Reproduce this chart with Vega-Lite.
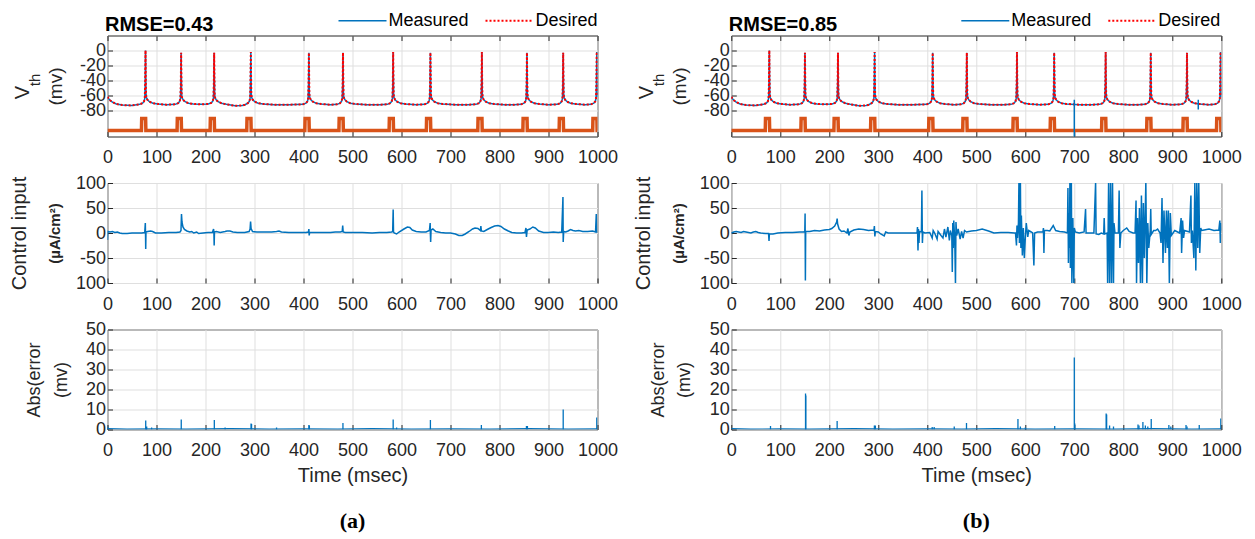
{
  "$schema": "https://vega.github.io/schema/vega-lite/v6.json",
  "background": "white",
  "padding": {"left": 8.5, "top": 10.5, "right": 10, "bottom": 0},
  "columns": 2,
  "bounds": "flush",
  "align": "each",
  "spacing": {"row": 46.5, "column": 133.8},
  "resolve": {
    "scale": {"color": "independent"},
    "legend": {"color": "independent"}
  },
  "datasets": {
    "vth": [
      {"t":0,"v":-62},{"t":2,"v":-64},{"t":5,"v":-66.5},{"t":10,"v":-69},{"t":18,"v":-71.5},{"t":30,"v":-73},{"t":50,"v":-73.5},
      {"t":65.6,"v":-72},{"t":71.6,"v":-70.5},{"t":74.6,"v":-68},{"t":76.1,"v":-64},{"t":76.9,"v":-45},{"t":77.6,"v":0},{"t":78.1,"v":-35},{"t":78.6,"v":-58},{"t":79.4,"v":-63},{"t":81.6,"v":-66},{"t":85.6,"v":-68.5},{"t":92.6,"v":-70.5},{"t":102.6,"v":-71.5},{"t":120,"v":-72.5},
      {"t":138.3,"v":-72},{"t":144.3,"v":-70.5},{"t":147.3,"v":-68},{"t":148.8,"v":-64},{"t":149.6,"v":-45},{"t":150.3,"v":-3},{"t":150.8,"v":-35},{"t":151.3,"v":-58},{"t":152.1,"v":-63},{"t":154.3,"v":-66},{"t":158.3,"v":-68.5},{"t":165.3,"v":-70.5},{"t":175.3,"v":-71.5},{"t":190,"v":-72},
      {"t":205.7,"v":-71.5},{"t":211.7,"v":-70},{"t":214.7,"v":-68},{"t":216.2,"v":-64},{"t":217,"v":-45},{"t":217.7,"v":-3},{"t":218.2,"v":-35},{"t":218.7,"v":-58},{"t":219.5,"v":-63},{"t":221.7,"v":-66},{"t":225.7,"v":-68.5},{"t":232.7,"v":-70.5},{"t":242.7,"v":-72},{"t":260,"v":-74},{"t":275,"v":-73.5},
      {"t":280.5,"v":-72.5},{"t":286.5,"v":-70.5},{"t":289.5,"v":-68},{"t":291,"v":-64},{"t":291.8,"v":-45},{"t":292.5,"v":-2},{"t":293,"v":-35},{"t":293.5,"v":-58},{"t":294.3,"v":-63},{"t":296.5,"v":-66},{"t":300.5,"v":-68.5},{"t":307.5,"v":-70.5},{"t":317.5,"v":-71.5},{"t":340,"v":-72.5},{"t":370,"v":-72.5},
      {"t":399,"v":-72},{"t":405,"v":-70.5},{"t":408,"v":-68},{"t":409.5,"v":-64},{"t":410.3,"v":-45},{"t":411,"v":-3},{"t":411.5,"v":-35},{"t":412,"v":-58},{"t":412.8,"v":-63},{"t":415,"v":-66},{"t":419,"v":-68.5},{"t":426,"v":-70.5},{"t":436,"v":-71.5},{"t":455,"v":-72.5},
      {"t":468.6,"v":-72},{"t":474.6,"v":-70.5},{"t":477.6,"v":-68},{"t":479.1,"v":-64},{"t":479.9,"v":-45},{"t":480.6,"v":-3},{"t":481.1,"v":-35},{"t":481.6,"v":-58},{"t":482.4,"v":-63},{"t":484.6,"v":-66},{"t":488.6,"v":-68.5},{"t":495.6,"v":-70.5},{"t":505.6,"v":-71.5},{"t":530,"v":-72.5},{"t":555,"v":-72.5},
      {"t":571,"v":-72},{"t":577,"v":-70.5},{"t":580,"v":-68},{"t":581.5,"v":-64},{"t":582.3,"v":-45},{"t":583,"v":-2},{"t":583.5,"v":-35},{"t":584,"v":-58},{"t":584.8,"v":-63},{"t":587,"v":-66},{"t":591,"v":-68.5},{"t":598,"v":-70.5},{"t":608,"v":-71.5},{"t":630,"v":-72.5},
      {"t":647,"v":-72},{"t":653,"v":-70.5},{"t":656,"v":-68},{"t":657.5,"v":-64},{"t":658.3,"v":-45},{"t":659,"v":-3},{"t":659.5,"v":-35},{"t":660,"v":-58},{"t":660.8,"v":-63},{"t":663,"v":-66},{"t":667,"v":-68.5},{"t":674,"v":-70.5},{"t":684,"v":-71.5},{"t":710,"v":-72.5},{"t":735,"v":-72.5},
      {"t":752,"v":-72},{"t":758,"v":-70.5},{"t":761,"v":-68},{"t":762.5,"v":-64},{"t":763.3,"v":-45},{"t":764,"v":-2},{"t":764.5,"v":-35},{"t":765,"v":-58},{"t":765.8,"v":-63},{"t":768,"v":-66},{"t":772,"v":-68.5},{"t":779,"v":-70.5},{"t":789,"v":-71.5},{"t":810,"v":-72.5},{"t":830,"v":-72.5},
      {"t":844,"v":-72},{"t":850,"v":-70.5},{"t":853,"v":-68},{"t":854.5,"v":-64},{"t":855.3,"v":-45},{"t":856,"v":-3},{"t":856.5,"v":-35},{"t":857,"v":-58},{"t":857.8,"v":-63},{"t":860,"v":-66},{"t":864,"v":-68.5},{"t":871,"v":-70.5},{"t":881,"v":-71.5},{"t":900,"v":-72.5},
      {"t":918,"v":-72},{"t":924,"v":-70.5},{"t":927,"v":-68},{"t":928.5,"v":-64},{"t":929.3,"v":-45},{"t":930,"v":-3},{"t":930.5,"v":-35},{"t":931,"v":-58},{"t":931.8,"v":-63},{"t":934,"v":-66},{"t":938,"v":-68.5},{"t":945,"v":-70.5},{"t":955,"v":-71.5},{"t":975,"v":-72.5},
      {"t":986.5,"v":-72},{"t":992.5,"v":-70.5},{"t":995.5,"v":-68},{"t":997,"v":-64},{"t":997.8,"v":-45},{"t":998.5,"v":-2},{"t":999,"v":-35},{"t":999.5,"v":-58},{"t":1000,"v":-62}
    ],
    "pulse": [
      {"t":0,"v":-107},
      {"t":69.3,"v":-107},{"t":69.8,"v":-91},{"t":77.8,"v":-91},{"t":78.3,"v":-107},
      {"t":142,"v":-107},{"t":142.5,"v":-91},{"t":150.5,"v":-91},{"t":151,"v":-107},
      {"t":209.4,"v":-107},{"t":209.9,"v":-91},{"t":217.9,"v":-91},{"t":218.4,"v":-107},
      {"t":284.2,"v":-107},{"t":284.7,"v":-91},{"t":292.7,"v":-91},{"t":293.2,"v":-107},
      {"t":402.7,"v":-107},{"t":403.2,"v":-91},{"t":411.2,"v":-91},{"t":411.7,"v":-107},
      {"t":472.3,"v":-107},{"t":472.8,"v":-91},{"t":480.8,"v":-91},{"t":481.3,"v":-107},
      {"t":574.7,"v":-107},{"t":575.2,"v":-91},{"t":583.2,"v":-91},{"t":583.7,"v":-107},
      {"t":650.7,"v":-107},{"t":651.2,"v":-91},{"t":659.2,"v":-91},{"t":659.7,"v":-107},
      {"t":755.7,"v":-107},{"t":756.2,"v":-91},{"t":764.2,"v":-91},{"t":764.7,"v":-107},
      {"t":847.7,"v":-107},{"t":848.2,"v":-91},{"t":856.2,"v":-91},{"t":856.7,"v":-107},
      {"t":921.7,"v":-107},{"t":922.2,"v":-91},{"t":930.2,"v":-91},{"t":930.7,"v":-107},
      {"t":990.2,"v":-107},{"t":990.7,"v":-91},{"t":998.7,"v":-91},{"t":999.2,"v":-107},
      {"t":1000,"v":-107}
    ],
    "glitch": [
      {"t":700,"lo":-118,"hi":-66},
      {"t":953,"lo":-79,"hi":-66}
    ],
    "ctrlA": [
      {"t":0,"v":-14},{"t":0.6,"v":3},{"t":5,"v":2},{"t":10,"v":3},{"t":15,"v":1},{"t":20,"v":2},{"t":25,"v":0},{"t":30,"v":-1},{"t":40,"v":-1},{"t":50,"v":0},{"t":60,"v":0},{"t":70,"v":0},{"t":76,"v":1},{"t":77.2,"v":20},{"t":77.6,"v":-2},{"t":78,"v":-32},{"t":78.5,"v":2},{"t":82,"v":3},{"t":88,"v":4},{"t":92,"v":3},{"t":98,"v":0},{"t":110,"v":0},{"t":125,"v":1},{"t":140,"v":1},{"t":148,"v":2},{"t":150,"v":5},{"t":151,"v":38},{"t":152,"v":22},{"t":154,"v":12},{"t":157,"v":7},{"t":162,"v":4},{"t":168,"v":2},{"t":172,"v":3},{"t":176,"v":0},{"t":182,"v":2},{"t":186,"v":-1},{"t":195,"v":0},{"t":205,"v":1},{"t":214,"v":1},{"t":216.5,"v":8},{"t":217.2,"v":-2},{"t":217.7,"v":-25},{"t":218.3,"v":2},{"t":222,"v":3},{"t":230,"v":1},{"t":240,"v":3},{"t":244,"v":4},{"t":250,"v":4},{"t":256,"v":2},{"t":265,"v":1},{"t":280,"v":1},{"t":289,"v":3},{"t":291,"v":8},{"t":292,"v":23},{"t":293,"v":9},{"t":296,"v":3},{"t":305,"v":2},{"t":320,"v":2},{"t":335,"v":2},{"t":345,"v":3},{"t":350,"v":4},{"t":355,"v":2},{"t":370,"v":1},{"t":390,"v":1},{"t":405,"v":1},{"t":410,"v":2},{"t":411,"v":8},{"t":411.6,"v":-5},{"t":412.5,"v":1},{"t":425,"v":1},{"t":440,"v":1},{"t":455,"v":1},{"t":465,"v":2},{"t":475,"v":2},{"t":479,"v":3},{"t":480,"v":15},{"t":481,"v":2},{"t":485,"v":1},{"t":500,"v":1},{"t":520,"v":1},{"t":540,"v":0},{"t":555,"v":1},{"t":570,"v":1},{"t":580,"v":2},{"t":582,"v":3},{"t":583,"v":47},{"t":583.7,"v":2},{"t":585,"v":0},{"t":590,"v":-2},{"t":595,"v":2},{"t":605,"v":8},{"t":612,"v":12},{"t":617,"v":11},{"t":622,"v":6},{"t":630,"v":3},{"t":640,"v":2},{"t":650,"v":2},{"t":657,"v":5},{"t":658.5,"v":20},{"t":659,"v":-3},{"t":659.5,"v":-18},{"t":660.3,"v":6},{"t":664,"v":8},{"t":670,"v":3},{"t":680,"v":1},{"t":690,"v":0},{"t":700,"v":0},{"t":710,"v":-2},{"t":717,"v":-5},{"t":724,"v":-5},{"t":730,"v":-2},{"t":738,"v":3},{"t":745,"v":8},{"t":750,"v":10},{"t":756,"v":9},{"t":761,"v":5},{"t":762,"v":14},{"t":763,"v":4},{"t":768,"v":3},{"t":775,"v":7},{"t":783,"v":11},{"t":790,"v":14},{"t":797,"v":15},{"t":803,"v":13},{"t":810,"v":8},{"t":818,"v":4},{"t":825,"v":1},{"t":835,"v":0},{"t":845,"v":0},{"t":852,"v":1},{"t":854,"v":10},{"t":855,"v":-8},{"t":856.5,"v":6},{"t":862,"v":8},{"t":868,"v":12},{"t":873,"v":10},{"t":880,"v":4},{"t":890,"v":1},{"t":900,"v":1},{"t":910,"v":2},{"t":920,"v":1},{"t":927,"v":2},{"t":929.5,"v":72},{"t":930,"v":-18},{"t":931,"v":3},{"t":935,"v":2},{"t":940,"v":4},{"t":945,"v":7},{"t":950,"v":5},{"t":955,"v":4},{"t":962,"v":5},{"t":970,"v":3},{"t":980,"v":3},{"t":990,"v":4},{"t":996,"v":2},{"t":997.5,"v":38},{"t":998.5,"v":2},{"t":1000,"v":1}
    ],
    "ctrlB": [
      {"t":0,"v":0},{"t":5,"v":2},{"t":10,"v":3},{"t":15,"v":2},{"t":20,"v":1},{"t":25,"v":3},{"t":30,"v":2},{"t":40,"v":0},{"t":45,"v":2},{"t":50,"v":3},{"t":55,"v":1},{"t":60,"v":0},{"t":70,"v":-1},{"t":76,"v":-1},{"t":77,"v":-16},{"t":77.7,"v":-2},{"t":85,"v":-2},{"t":95,"v":0},{"t":110,"v":1},{"t":125,"v":1},{"t":140,"v":2},{"t":148,"v":2},{"t":150,"v":3},{"t":150.6,"v":39},{"t":151.2,"v":-95},{"t":151.8,"v":3},{"t":160,"v":3},{"t":170,"v":5},{"t":180,"v":4},{"t":190,"v":6},{"t":200,"v":7},{"t":205,"v":9},{"t":211,"v":14},{"t":215,"v":22},{"t":216,"v":29},{"t":217,"v":18},{"t":220,"v":8},{"t":225,"v":3},{"t":230,"v":4},{"t":236,"v":0},{"t":238,"v":9},{"t":240,"v":-5},{"t":242,"v":2},{"t":250,"v":6},{"t":260,"v":8},{"t":270,"v":7},{"t":280,"v":5},{"t":290,"v":6},{"t":291,"v":5},{"t":292,"v":14},{"t":293,"v":-7},{"t":294,"v":3},{"t":300,"v":2},{"t":305,"v":-2},{"t":312,"v":-6},{"t":315,"v":2},{"t":320,"v":0},{"t":330,"v":0},{"t":340,"v":0},{"t":360,"v":0},{"t":375,"v":0},{"t":379,"v":0},{"t":380,"v":12},{"t":381,"v":-35},{"t":382,"v":8},{"t":383,"v":-20},{"t":384,"v":3},{"t":388,"v":2},{"t":389,"v":85},{"t":390,"v":-20},{"t":391,"v":2},{"t":395,"v":0},{"t":405,"v":1},{"t":410,"v":-10},{"t":412,"v":5},{"t":415,"v":0},{"t":420,"v":-12},{"t":422,"v":3},{"t":428,"v":-5},{"t":432,"v":-10},{"t":435,"v":8},{"t":438,"v":-8},{"t":442,"v":12},{"t":445,"v":-15},{"t":447,"v":5},{"t":450,"v":-5},{"t":451,"v":-78},{"t":452,"v":20},{"t":453,"v":-30},{"t":454,"v":25},{"t":455,"v":5},{"t":456,"v":-10},{"t":457.5,"v":-102},{"t":458.5,"v":22},{"t":460,"v":-5},{"t":463,"v":8},{"t":467,"v":-12},{"t":470,"v":3},{"t":473,"v":-10},{"t":476,"v":5},{"t":480,"v":2},{"t":490,"v":4},{"t":500,"v":5},{"t":512,"v":8},{"t":525,"v":4},{"t":536,"v":0},{"t":550,"v":1},{"t":565,"v":1},{"t":578,"v":0},{"t":580,"v":0},{"t":582,"v":-25},{"t":583,"v":15},{"t":584,"v":-10},{"t":586,"v":20},{"t":587,"v":102},{"t":588,"v":-20},{"t":590,"v":102},{"t":591,"v":-30},{"t":592,"v":35},{"t":594,"v":-45},{"t":596,"v":10},{"t":598,"v":-50},{"t":600,"v":-10},{"t":602,"v":20},{"t":605,"v":-8},{"t":607,"v":5},{"t":612,"v":2},{"t":615,"v":0},{"t":617.5,"v":-65},{"t":619,"v":0},{"t":625,"v":2},{"t":636,"v":2},{"t":637,"v":10},{"t":638,"v":-40},{"t":639,"v":5},{"t":645,"v":5},{"t":650,"v":4},{"t":657,"v":15},{"t":662,"v":5},{"t":670,"v":3},{"t":680,"v":2},{"t":686,"v":0},{"t":687,"v":90},{"t":688,"v":-60},{"t":689,"v":40},{"t":690,"v":-30},{"t":691,"v":102},{"t":692,"v":-70},{"t":694,"v":102},{"t":695,"v":-102},{"t":697,"v":30},{"t":699,"v":-102},{"t":700,"v":10},{"t":702,"v":2},{"t":710,"v":0},{"t":720,"v":2},{"t":723,"v":48},{"t":724,"v":0},{"t":730,"v":0},{"t":740,"v":0},{"t":743.5,"v":102},{"t":744.5,"v":-2},{"t":750,"v":-3},{"t":755,"v":0},{"t":760,"v":-2},{"t":761,"v":30},{"t":762,"v":-2},{"t":767,"v":0},{"t":768,"v":-102},{"t":770,"v":102},{"t":772,"v":-102},{"t":774,"v":102},{"t":776,"v":-102},{"t":778,"v":102},{"t":780,"v":-102},{"t":781,"v":20},{"t":783,"v":0},{"t":790,"v":0},{"t":791.5,"v":85},{"t":793,"v":-30},{"t":795,"v":0},{"t":800,"v":5},{"t":807,"v":10},{"t":812,"v":3},{"t":820,"v":0},{"t":824,"v":0},{"t":826,"v":65},{"t":827,"v":-102},{"t":829,"v":30},{"t":831,"v":-60},{"t":833,"v":50},{"t":835,"v":-102},{"t":837,"v":75},{"t":839,"v":-102},{"t":841,"v":60},{"t":843,"v":-50},{"t":846,"v":102},{"t":848,"v":-102},{"t":850,"v":20},{"t":852,"v":-30},{"t":855,"v":5},{"t":856,"v":48},{"t":857,"v":-3},{"t":862,"v":5},{"t":866,"v":5},{"t":870,"v":8},{"t":875,"v":0},{"t":877,"v":-20},{"t":879,"v":70},{"t":881,"v":-60},{"t":883,"v":45},{"t":886,"v":-40},{"t":888,"v":45},{"t":890,"v":-30},{"t":892,"v":45},{"t":894,"v":-102},{"t":896,"v":40},{"t":898,"v":-5},{"t":905,"v":5},{"t":915,"v":0},{"t":918,"v":30},{"t":919,"v":-40},{"t":921,"v":25},{"t":923,"v":-10},{"t":925,"v":5},{"t":935,"v":2},{"t":938,"v":75},{"t":939,"v":-20},{"t":941,"v":5},{"t":944,"v":-50},{"t":946,"v":102},{"t":948,"v":-75},{"t":950,"v":102},{"t":952,"v":-30},{"t":954,"v":102},{"t":956,"v":-40},{"t":958,"v":10},{"t":960,"v":5},{"t":965,"v":6},{"t":975,"v":8},{"t":985,"v":5},{"t":995,"v":6},{"t":997,"v":25},{"t":998,"v":-20},{"t":999,"v":20},{"t":1000,"v":5}
    ],
    "errBase": [
      {"t":0,"e":0.4},{"t":40,"e":0.2},{"t":100,"e":0.3},{"t":160,"e":0.2},{"t":250,"e":0.4},{"t":330,"e":0.2},{"t":400,"e":0.3},{"t":470,"e":0.2},{"t":540,"e":0.4},{"t":620,"e":0.2},{"t":700,"e":0.3},{"t":780,"e":0.2},{"t":860,"e":0.4},{"t":940,"e":0.2},{"t":1000,"e":0.3}
    ],
    "errA": [
      {"t":0.5,"e":1.5},{"t":78,"e":4.5},{"t":79,"e":1.2},{"t":80,"e":1.5},{"t":90,"e":1},{"t":150.5,"e":5},{"t":218,"e":4.8},{"t":240,"e":1},{"t":293,"e":3},{"t":294,"e":2.8},{"t":345,"e":1},{"t":411,"e":2.2},{"t":412,"e":2},{"t":480.5,"e":3.2},{"t":583,"e":5},{"t":590,"e":1},{"t":659,"e":4.8},{"t":763,"e":2.3},{"t":855,"e":1.8},{"t":857,"e":1.8},{"t":930,"e":10},{"t":998.5,"e":6}
    ],
    "errB": [
      {"t":80,"e":1.8},{"t":151.5,"e":18},{"t":152,"e":17},{"t":216,"e":4.2},{"t":292,"e":2},{"t":294,"e":2},{"t":410,"e":1.2},{"t":414,"e":1.2},{"t":455,"e":1.5},{"t":480,"e":3.2},{"t":585,"e":5.2},{"t":590,"e":1.5},{"t":600,"e":1},{"t":660,"e":1.8},{"t":700,"e":36},{"t":701,"e":3},{"t":765,"e":8},{"t":766,"e":7.5},{"t":772,"e":2},{"t":780,"e":1.5},{"t":830,"e":2.5},{"t":832,"e":2},{"t":840,"e":3.8},{"t":845,"e":2},{"t":850,"e":1.5},{"t":857,"e":5.2},{"t":893,"e":2.2},{"t":897,"e":1.5},{"t":928,"e":2.2},{"t":930,"e":1.5},{"t":955,"e":2.2},{"t":999,"e":5.5}
    ]
  },
  "concat": [
    {
      "width": 490, "height": 101,
      "layer": [
        {"data": {"name": "pulse"}, "mark": {"type": "line", "color": "#D95319", "strokeWidth": 3.5, "clip": true},
         "encoding": {
           "x": {"field": "t", "type": "quantitative", "scale": {"domain": [0, 1000], "nice": false}, "axis": {"values": [0,100,200,300,400,500,600,700,800,900,1000], "format": "d", "title": null, "labelFlush": false, "labelOverlap": false, "grid": true}},
           "y": {"field": "v", "type": "quantitative", "scale": {"domain": [-115, 20], "nice": false}, "axis": {"orient": "left", "values": [-80,-60,-40,-20,0], "labelOverlap": false, "labelExpr": "datum.value < 0 ? '-' + abs(datum.value) : '' + datum.value", "title": "(mv)", "titleX": -46, "titleFontSize": 19}}}},
        {"data": {"name": "vth"}, "mark": {"type": "line", "strokeWidth": 1.5, "clip": true},
         "encoding": {
           "x": {"field": "t", "type": "quantitative", "axis": {"orient": "top", "values": [0,100,200,300,400,500,600,700,800,900,1000], "labels": false, "grid": false, "domain": false, "title": "RMSE=0.43", "titleX": -3, "titleY": -5, "titleAlign": "left", "titleAnchor": "start", "titleBaseline": "alphabetic", "titleFontSize": 20, "titleFontWeight": "bold", "titleColor": "#000"}},
           "y": {"field": "v", "type": "quantitative", "axis": {"orient": "left", "title": "V", "titleX": -79, "titleY": 56.5, "titleFontSize": 20, "labels": false, "ticks": false, "grid": false, "domain": false}},
           "color": {"datum": "Measured", "type": "nominal", "scale": {"domain": ["Measured", "Desired"], "range": ["#0072BD", "#FF0000"]}, "legend": {"title": null, "orient": "none", "legendX": 246, "legendY": -23.8, "direction": "horizontal", "symbolType": "M-2.4,0H2.4", "symbolSize": 400, "symbolStrokeWidth": {"expr": "datum.value === 'Desired' ? 2 : 1.5"}, "symbolDash": {"expr": "datum.value === 'Desired' ? [2,2] : [1,0]"}, "labelFontSize": 18, "labelOffset": 17, "columnPadding": 12, "padding": 0, "labelColor": "#000"}}}},
        {"data": {"name": "vth"}, "mark": {"type": "line", "strokeWidth": 2, "strokeDash": [2, 2], "clip": true},
         "encoding": {
           "x": {"field": "t", "type": "quantitative", "axis": null},
           "y": {"field": "v", "type": "quantitative", "axis": {"orient": "left", "title": "th", "titleX": -68, "titleY": 44, "titleFontSize": 15, "labels": false, "ticks": false, "grid": false, "domain": false}},
           "color": {"datum": "Desired", "type": "nominal"}}}
      ],
      "resolve": {"axis": {"x": "independent", "y": "independent"}}
    },
    {
      "width": 490, "height": 101,
      "layer": [
        {"data": {"name": "pulse"}, "mark": {"type": "line", "color": "#D95319", "strokeWidth": 3.5, "clip": true},
         "encoding": {
           "x": {"field": "t", "type": "quantitative", "scale": {"domain": [0, 1000], "nice": false}, "axis": {"values": [0,100,200,300,400,500,600,700,800,900,1000], "format": "d", "title": null, "labelFlush": false, "labelOverlap": false, "grid": true}},
           "y": {"field": "v", "type": "quantitative", "scale": {"domain": [-115, 20], "nice": false}, "axis": {"orient": "left", "values": [-80,-60,-40,-20,0], "labelOverlap": false, "labelExpr": "datum.value < 0 ? '-' + abs(datum.value) : '' + datum.value", "title": "(mv)", "titleX": -46, "titleFontSize": 19}}}},
        {"data": {"name": "vth"}, "mark": {"type": "line", "strokeWidth": 1.5, "clip": true},
         "encoding": {
           "x": {"field": "t", "type": "quantitative", "axis": {"orient": "top", "values": [0,100,200,300,400,500,600,700,800,900,1000], "labels": false, "grid": false, "domain": false, "title": "RMSE=0.85", "titleX": -3, "titleY": -5, "titleAlign": "left", "titleAnchor": "start", "titleBaseline": "alphabetic", "titleFontSize": 20, "titleFontWeight": "bold", "titleColor": "#000"}},
           "y": {"field": "v", "type": "quantitative", "axis": {"orient": "left", "title": "V", "titleX": -79, "titleY": 56.5, "titleFontSize": 20, "labels": false, "ticks": false, "grid": false, "domain": false}},
           "color": {"datum": "Measured", "type": "nominal", "scale": {"domain": ["Measured", "Desired"], "range": ["#0072BD", "#FF0000"]}, "legend": {"title": null, "orient": "none", "legendX": 245, "legendY": -23.8, "direction": "horizontal", "symbolType": "M-2.4,0H2.4", "symbolSize": 400, "symbolStrokeWidth": {"expr": "datum.value === 'Desired' ? 2 : 1.5"}, "symbolDash": {"expr": "datum.value === 'Desired' ? [2,2] : [1,0]"}, "labelFontSize": 18, "labelOffset": 17, "columnPadding": 12, "padding": 0, "labelColor": "#000"}}}},
        {"data": {"name": "vth"}, "mark": {"type": "line", "strokeWidth": 2, "strokeDash": [2, 2], "clip": true},
         "encoding": {
           "x": {"field": "t", "type": "quantitative", "axis": null},
           "y": {"field": "v", "type": "quantitative", "axis": {"orient": "left", "title": "th", "titleX": -68, "titleY": 44, "titleFontSize": 15, "labels": false, "ticks": false, "grid": false, "domain": false}},
           "color": {"datum": "Desired", "type": "nominal"}}},
        {"data": {"name": "glitch"}, "mark": {"type": "rule", "color": "#0072BD", "strokeWidth": 1.5, "clip": true},
         "encoding": {
           "x": {"field": "t", "type": "quantitative", "axis": null},
           "y": {"field": "lo", "type": "quantitative", "axis": null},
           "y2": {"field": "hi"}}}
      ],
      "resolve": {"axis": {"x": "independent", "y": "independent"}}
    },
    {
      "width": 490, "height": 100,
      "data": {"name": "ctrlA"},
      "layer": [
        {"mark": {"type": "line", "color": "#0072BD", "strokeWidth": 1.5, "clip": true},
         "encoding": {
           "x": {"field": "t", "type": "quantitative", "scale": {"domain": [0, 1000], "nice": false}, "axis": {"values": [0,100,200,300,400,500,600,700,800,900,1000], "format": "d", "title": null, "labelFlush": false, "labelOverlap": false, "grid": true}},
           "y": {"field": "v", "type": "quantitative", "scale": {"domain": [-100, 100], "nice": false}, "axis": {"orient": "left", "values": [-100,-50,0,50,100], "labelOverlap": false, "labelExpr": "datum.value == -100 ? '100' : (datum.value < 0 ? '-' + abs(datum.value) : '' + datum.value)", "title": "Control input", "titleX": -82, "titleFontSize": 20}}}},
        {"mark": {"type": "line", "opacity": 0},
         "encoding": {
           "x": {"field": "t", "type": "quantitative"},
           "y": {"field": "v", "type": "quantitative", "axis": {"orient": "left", "title": "(µA/cm²)", "titleX": -48, "titleFontSize": 15, "titleFontWeight": "bold", "labels": false, "ticks": false, "grid": false, "domain": false}}}}
      ],
      "resolve": {"axis": {"y": "independent"}}
    },
    {
      "width": 490, "height": 100,
      "data": {"name": "ctrlB"},
      "layer": [
        {"mark": {"type": "line", "color": "#0072BD", "strokeWidth": 1.5, "clip": true},
         "encoding": {
           "x": {"field": "t", "type": "quantitative", "scale": {"domain": [0, 1000], "nice": false}, "axis": {"values": [0,100,200,300,400,500,600,700,800,900,1000], "format": "d", "title": null, "labelFlush": false, "labelOverlap": false, "grid": true}},
           "y": {"field": "v", "type": "quantitative", "scale": {"domain": [-100, 100], "nice": false}, "axis": {"orient": "left", "values": [-100,-50,0,50,100], "labelOverlap": false, "labelExpr": "datum.value == -100 ? '100' : (datum.value < 0 ? '-' + abs(datum.value) : '' + datum.value)", "title": "Control input", "titleX": -82, "titleFontSize": 20}}}},
        {"mark": {"type": "line", "opacity": 0},
         "encoding": {
           "x": {"field": "t", "type": "quantitative"},
           "y": {"field": "v", "type": "quantitative", "axis": {"orient": "left", "title": "(µA/cm²)", "titleX": -48, "titleFontSize": 15, "titleFontWeight": "bold", "labels": false, "ticks": false, "grid": false, "domain": false}}}}
      ],
      "resolve": {"axis": {"y": "independent"}}
    },
    {
      "width": 490, "height": 100,
      "title": {"text": "(a)", "orient": "bottom", "font": "Liberation Serif", "fontSize": 22, "fontWeight": "bold", "offset": 25},
      "layer": [
        {"data": {"name": "errBase"}, "mark": {"type": "line", "color": "#0072BD", "strokeWidth": 1.2, "clip": true},
         "encoding": {
           "x": {"field": "t", "type": "quantitative", "scale": {"domain": [0, 1000], "nice": false}, "axis": {"values": [0,100,200,300,400,500,600,700,800,900,1000], "format": "d", "title": "Time (msec)", "titleFontSize": 20, "labelFlush": false, "labelOverlap": false, "grid": true}},
           "y": {"field": "e", "type": "quantitative", "scale": {"domain": [0, 50], "nice": false}, "axis": {"orient": "left", "values": [0,10,20,30,40,50], "labelOverlap": false, "title": ["Abs(error", "(mv)"], "titleX": -68, "titleLineHeight": 26.7, "titleFontSize": 18}}}},
        {"data": {"name": "errA"}, "mark": {"type": "rule", "color": "#0072BD", "strokeWidth": 1.3, "clip": true},
         "encoding": {
           "x": {"field": "t", "type": "quantitative"},
           "y": {"field": "e", "type": "quantitative", "axis": null},
           "y2": {"datum": 0}}}
      ],
      "resolve": {"axis": {"y": "independent"}}
    },
    {
      "width": 490, "height": 100,
      "title": {"text": "(b)", "orient": "bottom", "font": "Liberation Serif", "fontSize": 22, "fontWeight": "bold", "offset": 25},
      "layer": [
        {"data": {"name": "errBase"}, "mark": {"type": "line", "color": "#0072BD", "strokeWidth": 1.2, "clip": true},
         "encoding": {
           "x": {"field": "t", "type": "quantitative", "scale": {"domain": [0, 1000], "nice": false}, "axis": {"values": [0,100,200,300,400,500,600,700,800,900,1000], "format": "d", "title": "Time (msec)", "titleFontSize": 20, "labelFlush": false, "labelOverlap": false, "grid": true}},
           "y": {"field": "e", "type": "quantitative", "scale": {"domain": [0, 50], "nice": false}, "axis": {"orient": "left", "values": [0,10,20,30,40,50], "labelOverlap": false, "title": ["Abs(error", "(mv)"], "titleX": -68, "titleLineHeight": 26.7, "titleFontSize": 18}}}},
        {"data": {"name": "errB"}, "mark": {"type": "rule", "color": "#0072BD", "strokeWidth": 1.3, "clip": true},
         "encoding": {
           "x": {"field": "t", "type": "quantitative"},
           "y": {"field": "e", "type": "quantitative", "axis": null},
           "y2": {"datum": 0}}}
      ],
      "resolve": {"axis": {"y": "independent"}}
    }
  ],
  "config": {
    "font": "Liberation Sans",
    "view": {"stroke": "#262626", "strokeWidth": 1},
    "axis": {"labelFontSize": 18, "labelColor": "#262626", "titleColor": "#262626", "titleFontWeight": "normal", "gridColor": "#dfdfdf", "gridWidth": 1, "domain": false, "tickColor": "#262626", "tickSize": -5, "labelFont": "Liberation Sans", "titleFont": "Liberation Sans", "labelOverlap": false},
    "axisX": {"labelPadding": 17, "titlePadding": 6},
    "axisY": {"labelPadding": 7, "titleBaseline": "alphabetic"},
    "title": {"color": "#000", "font": "Liberation Sans"}
  }
}
